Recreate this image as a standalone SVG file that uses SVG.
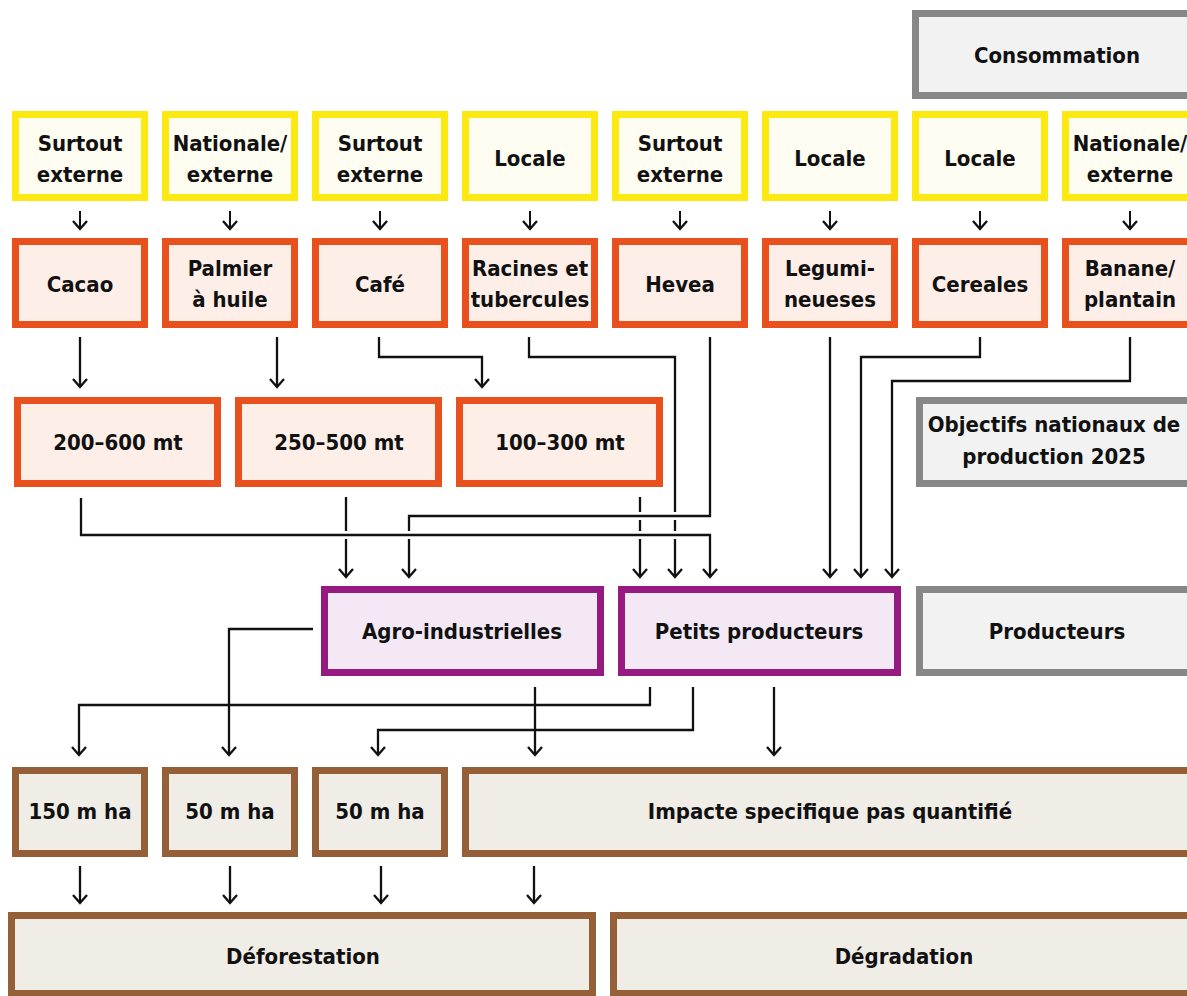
<svg xmlns="http://www.w3.org/2000/svg" width="1187" height="996" viewBox="0 0 1187 996">
<defs>
<style>
.t{font-family:"DejaVu Sans Condensed","DejaVu Sans","Liberation Sans",sans-serif;font-weight:bold;font-size:22px;fill:#111;text-anchor:middle}
.y{fill:#FFFDF1;stroke:#FDE912;stroke-width:7}
.o{fill:#FDEEE8;stroke:#E8501E;stroke-width:7}
.p{fill:#F3E8F4;stroke:#951B81;stroke-width:7}
.b{fill:#F0ECE6;stroke:#955F38;stroke-width:7}
.g{fill:#F2F2F2;stroke:#878787;stroke-width:7}
.c{fill:none;stroke:#111;stroke-width:2.3}
.a{marker-end:url(#ah)}
.s{fill:none;stroke:#111;stroke-width:2}
</style>
<marker id="ah" markerUnits="userSpaceOnUse" viewBox="-10 -10 20 20" markerWidth="20" markerHeight="20" refX="0" refY="0" orient="auto" overflow="visible">
<path d="M-8,-7 L0,0 L-8,7" fill="none" stroke="#111" stroke-width="2.3"/>
</marker>
</defs>
<rect width="1187" height="996" fill="#fff"/>

<g id="consommation"><rect class="g" x="915.5" y="13.5" width="281" height="82"/><text class="t" x="1057" y="63">Consommation</text></g>

<g id="dest1"><rect class="y" x="15.5" y="114.5" width="129" height="83"/><text class="t" x="80" y="151">Surtout</text><text class="t" x="80" y="182">externe</text></g>
<g id="dest2"><rect class="y" x="165.5" y="114.5" width="129" height="83"/><text class="t" x="230" y="151">Nationale/</text><text class="t" x="230" y="182">externe</text></g>
<g id="dest3"><rect class="y" x="315.5" y="114.5" width="129" height="83"/><text class="t" x="380" y="151">Surtout</text><text class="t" x="380" y="182">externe</text></g>
<g id="dest4"><rect class="y" x="465.5" y="114.5" width="129" height="83"/><text class="t" x="530" y="166">Locale</text></g>
<g id="dest5"><rect class="y" x="615.5" y="114.5" width="129" height="83"/><text class="t" x="680" y="151">Surtout</text><text class="t" x="680" y="182">externe</text></g>
<g id="dest6"><rect class="y" x="765.5" y="114.5" width="129" height="83"/><text class="t" x="830" y="166">Locale</text></g>
<g id="dest7"><rect class="y" x="915.5" y="114.5" width="129" height="83"/><text class="t" x="980" y="166">Locale</text></g>
<g id="dest8"><rect class="y" x="1065.5" y="114.5" width="129" height="83"/><text class="t" x="1130" y="151">Nationale/</text><text class="t" x="1130" y="182">externe</text></g>

<g id="cacao"><rect class="o" x="15.5" y="241.5" width="129" height="83"/><text class="t" x="80" y="292">Cacao</text></g>
<g id="palmier"><rect class="o" x="165.5" y="241.5" width="129" height="83"/><text class="t" x="230" y="276">Palmier</text><text class="t" x="230" y="307">à huile</text></g>
<g id="cafe"><rect class="o" x="315.5" y="241.5" width="129" height="83"/><text class="t" x="380" y="292">Café</text></g>
<g id="racines"><rect class="o" x="465.5" y="241.5" width="129" height="83"/><text class="t" x="530" y="276">Racines et</text><text class="t" x="530" y="307">tubercules</text></g>
<g id="hevea"><rect class="o" x="615.5" y="241.5" width="129" height="83"/><text class="t" x="680" y="292">Hevea</text></g>
<g id="legumineuses"><rect class="o" x="765.5" y="241.5" width="129" height="83"/><text class="t" x="830" y="276">Legumi-</text><text class="t" x="830" y="307">neueses</text></g>
<g id="cereales"><rect class="o" x="915.5" y="241.5" width="129" height="83"/><text class="t" x="980" y="292">Cereales</text></g>
<g id="banane"><rect class="o" x="1065.5" y="241.5" width="129" height="83"/><text class="t" x="1130" y="276">Banane/</text><text class="t" x="1130" y="307">plantain</text></g>

<g id="mt1"><rect class="o" x="17.5" y="400.5" width="200" height="83"/><text class="t" x="118" y="450">200–600 mt</text></g>
<g id="mt2"><rect class="o" x="238.5" y="400.5" width="200" height="83"/><text class="t" x="339" y="450">250–500 mt</text></g>
<g id="mt3"><rect class="o" x="459.5" y="400.5" width="200" height="83"/><text class="t" x="560" y="450">100–300 mt</text></g>
<g id="objectifs"><rect class="g" x="919.5" y="400.5" width="277" height="83"/><text class="t" x="1054" y="432">Objectifs nationaux de</text><text class="t" x="1054" y="464">production 2025</text></g>

<g id="agro"><rect class="p" x="324.5" y="589.5" width="276" height="83"/><text class="t" x="462" y="639">Agro-industrielles</text></g>
<g id="petits"><rect class="p" x="621.5" y="589.5" width="276" height="83"/><text class="t" x="759" y="639">Petits producteurs</text></g>
<g id="producteurs"><rect class="g" x="919.5" y="589.5" width="277" height="83"/><text class="t" x="1057" y="639">Producteurs</text></g>

<g id="ha1"><rect class="b" x="15.5" y="770.5" width="129" height="83"/><text class="t" x="80" y="819">150 m ha</text></g>
<g id="ha2"><rect class="b" x="165.5" y="770.5" width="129" height="83"/><text class="t" x="230" y="819">50 m ha</text></g>
<g id="ha3"><rect class="b" x="315.5" y="770.5" width="129" height="83"/><text class="t" x="380" y="819">50 m ha</text></g>
<g id="impacte"><rect class="b" x="465.5" y="770.5" width="731" height="83"/><text class="t" x="830" y="819">Impacte specifique pas quantifié</text></g>

<g id="deforestation"><rect class="b" x="11.5" y="915.5" width="581" height="78"/><text class="t" x="303" y="964">Déforestation</text></g>
<g id="degradation"><rect class="b" x="613.5" y="915.5" width="583" height="78"/><text class="t" x="904" y="964">Dégradation</text></g>

<g id="connectors">
<path class="s a" d="M80,211 V229"/>
<path class="s a" d="M230,211 V229"/>
<path class="s a" d="M380,211 V229"/>
<path class="s a" d="M530,211 V229"/>
<path class="s a" d="M680,211 V229"/>
<path class="s a" d="M830,211 V229"/>
<path class="s a" d="M980,211 V229"/>
<path class="s a" d="M1130,211 V229"/>

<path class="c a" d="M80,337 V387"/>
<path class="c a" d="M277,337 V387"/>
<path class="c a" d="M379,337 V357 H482 V387"/>

<path class="c" d="M529,337 V357 H675 V512 M675,520 V531"/>
<path class="c a" d="M675,539 V577"/>
<path class="c" d="M710,337 V516 H409 V531"/>
<path class="c a" d="M409,539 V577"/>
<path class="c a" d="M81,498 V535 H710 V577"/>
<path class="c" d="M346,497 V531"/>
<path class="c a" d="M346,539 V577"/>
<path class="c" d="M640,497 V512 M640,520 V531"/>
<path class="c a" d="M640,539 V577"/>

<path class="c a" d="M830,337 V577"/>
<path class="c a" d="M980,337 V357 H861 V577"/>
<path class="c a" d="M1130,337 V381 H892 V577"/>

<path class="c a" d="M313,629 H229 V755"/>
<path class="c a" d="M535,687 V755"/>
<path class="c a" d="M650,687 V705 H79 V755"/>
<path class="c a" d="M693,687 V730 H378 V755"/>
<path class="c a" d="M774,687 V755"/>

<path class="c a" d="M80,866 V903"/>
<path class="c a" d="M230,866 V903"/>
<path class="c a" d="M381,866 V903"/>
<path class="c a" d="M534,866 V903"/>
</g>
</svg>
